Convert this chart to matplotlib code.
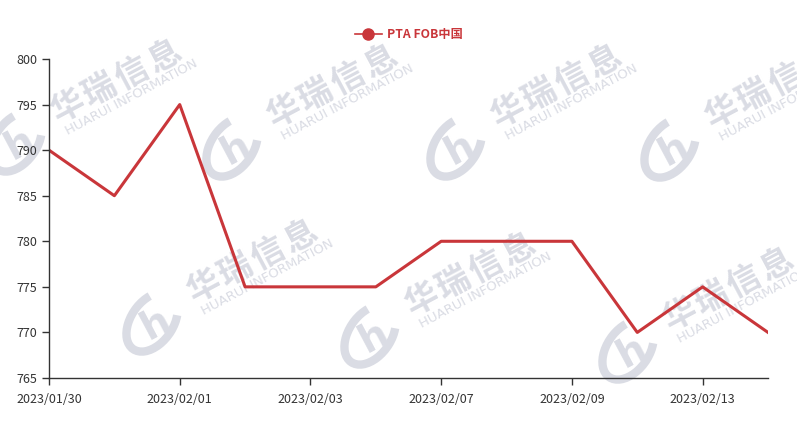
import numpy as np
import matplotlib.pyplot as plt
from matplotlib.patches import Arc

plt.rcParams['font.family'] = ['Noto Sans CJK SC', 'DejaVu Sans']

# data
dates = ['2023/01/30', '2023/01/31', '2023/02/01', '2023/02/02', '2023/02/03', '2023/02/06',
         '2023/02/07', '2023/02/08', '2023/02/09', '2023/02/10', '2023/02/13', '2023/02/14']
prices = [790, 785, 795, 775, 775, 775, 780, 780, 780, 770, 775, 770]
series_name = 'PTA FOB中国'

# watermark centres (pixels)
wm_x = [116, 332, 556, 770, 252, 470, 728]
wm_y = [82, 87, 87, 88, 262, 275, 290]

red = '#c9363a'
wm_col = '#dadce4'

W, H = 797, 425
fig = plt.figure(figsize=(W / 100, H / 100), dpi=100)

# background layer for the watermark, in pixel coords
bg = fig.add_axes([0, 0, 1, 1], zorder=0)
bg.set_xlim(0, W)
bg.set_ylim(H, 0)
bg.axis('off')

ang = 28
u = np.array([np.cos(np.radians(ang)), -np.sin(np.radians(ang))])
n = np.array([np.sin(np.radians(ang)), np.cos(np.radians(ang))])
for cx, cy in zip(wm_x, wm_y):
    c = np.array([cx, cy])
    for k, ch in enumerate('华瑞信息'):
        p = c + (k - 1.5) * 36 * u
        bg.text(p[0], p[1], ch, fontsize=24, fontweight='heavy', color=wm_col,
                rotation=ang, rotation_mode='anchor', ha='center', va='center')
    p = c + 21 * n + 6 * u
    bg.text(p[0], p[1], 'HUARUI INFORMATION', fontsize=9.5, color=wm_col,
            family='DejaVu Sans', rotation=ang, rotation_mode='anchor',
            ha='center', va='center', clip_on=True)
    lc = c + np.array([-100, 60])
    bg.add_patch(Arc(lc, 66, 42, angle=-55, theta1=40, theta2=320,
                     color=wm_col, lw=6))
    bg.text(lc[0] + 4, lc[1] + 2, 'h', fontsize=28, fontweight='bold', color=wm_col,
            family='DejaVu Sans', rotation=ang, ha='center', va='center')

ax = fig.add_axes([49 / W, 47 / H, 719 / W, 319 / H], zorder=1)
ax.set_facecolor('none')

x = np.arange(len(dates))
ax.plot(x, prices, color=red, linewidth=2.2, label=series_name)

ax.set_xlim(0, len(dates) - 1)
ax.set_ylim(765, 800)
ax.set_yticks(np.arange(765, 801, 5))
ax.set_xticks(x[::2])
ax.set_xticklabels(dates[::2])

for s in ['top', 'right']:
    ax.spines[s].set_visible(False)
for s in ['left', 'bottom']:
    ax.spines[s].set_color('#333333')
    ax.spines[s].set_linewidth(1)
ax.tick_params(colors='#333333', labelsize=9, length=5, width=1)
ax.tick_params(axis='x', pad=6)

# legend
leg_line, = ax.plot([], [], color=red, linewidth=1.2, marker='o', markersize=8)
fig.legend([leg_line], [series_name], loc='center', bbox_to_anchor=(0.513, 0.918),
           frameon=False, handlelength=2.2, handletextpad=0.4,
           prop={'size': 8.8, 'weight': 'bold'}, labelcolor=red)

fig.savefig('out.png', dpi=100)
